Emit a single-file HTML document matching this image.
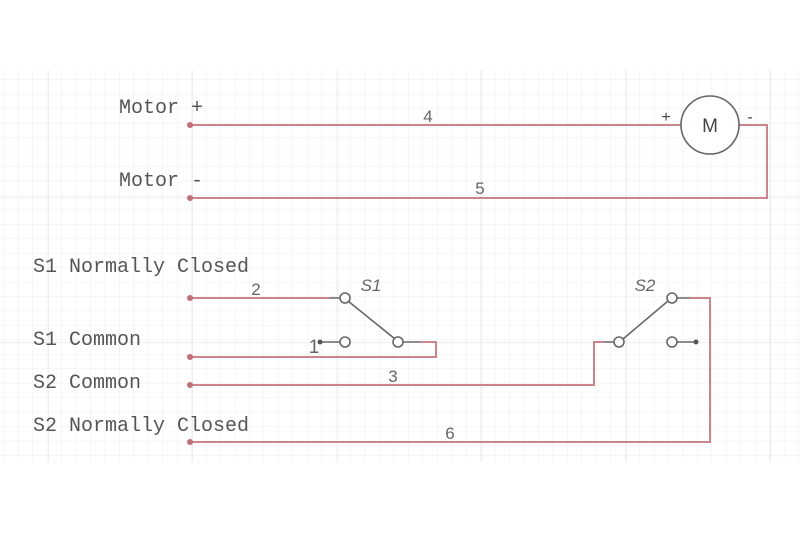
<!DOCTYPE html>
<html><head><style>
html,body{margin:0;padding:0;background:#fff;}
svg{display:block;}
text{font-family:"Liberation Mono",monospace;fill:#555;}
.n{font-family:"Liberation Sans",sans-serif;font-size:17px;fill:#666;}
</style></head><body>
<svg width="800" height="533" viewBox="0 0 800 533" xmlns="http://www.w3.org/2000/svg">
<defs>
<pattern id="minor" x="4" y="80" width="14.45" height="14.45" patternUnits="userSpaceOnUse">
<path d="M14.45 0V14.45H0" fill="none" stroke="#eeeeee" stroke-width="1"/>
</pattern>
<pattern id="major" x="48" y="53" width="144.5" height="144.5" patternUnits="userSpaceOnUse">
<path d="M0 0V144.5M0 0H144.5" fill="none" stroke="#dddddd" stroke-width="1"/>
</pattern>
</defs>
<rect x="0" y="70" width="800" height="392" fill="url(#minor)"/>
<rect x="0" y="70" width="800" height="392" fill="url(#major)"/>

<g fill="none" stroke="#c9868b" stroke-width="2">
<path d="M190 125H681"/>
<path d="M739 125H767V198H190"/>
<path d="M190 298H330"/>
<path d="M420 342H436V357H190"/>
<path d="M190 385H594V342H604"/>
<path d="M690 298H710V442H190"/>
</g>
<g fill="#c0707a">
<circle cx="190" cy="125" r="3"/><circle cx="190" cy="198" r="3"/>
<circle cx="190" cy="298" r="3"/><circle cx="190" cy="357" r="3"/>
<circle cx="190" cy="385" r="3"/><circle cx="190" cy="442" r="3"/>
</g>
<g fill="none" stroke="#666" stroke-width="1.6">
<circle cx="710" cy="125" r="29" fill="#fff"/>
<path d="M330 298H340M348 301L395 339M403 342H420M320 342H340"/>
<circle cx="345" cy="298" r="5" fill="#fff"/>
<circle cx="345" cy="342" r="5" fill="#fff"/>
<circle cx="398" cy="342" r="5" fill="#fff"/>
<path d="M604 342H614M623 339L668 301M677 298H690M677 342H696"/>
<circle cx="619" cy="342" r="5" fill="#fff"/>
<circle cx="672" cy="298" r="5" fill="#fff"/>
<circle cx="672" cy="342" r="5" fill="#fff"/>
</g>
<circle cx="320" cy="342" r="2.5" fill="#555"/>
<circle cx="696" cy="342" r="2.5" fill="#555"/>
<text x="710" y="132" text-anchor="middle" style="font-family:'Liberation Sans',sans-serif;font-size:19px;fill:#444">M</text>
<text x="666" y="122" text-anchor="middle" style="font-family:'Liberation Sans',sans-serif;font-size:16px;fill:#444">+</text>
<text x="750" y="122" text-anchor="middle" style="font-family:'Liberation Sans',sans-serif;font-size:16px;fill:#444">-</text>

<g font-size="20">
<text x="119" y="113">Motor +</text>
<text x="119" y="186">Motor -</text>
<text x="33" y="272">S1 Normally Closed</text>
<text x="33" y="345">S1 Common</text>
<text x="33" y="388">S2 Common</text>
<text x="33" y="431">S2 Normally Closed</text>
</g>
<text class="n" x="428" y="122" text-anchor="middle">4</text>
<text class="n" x="480" y="194" text-anchor="middle">5</text>
<text class="n" x="256" y="295" text-anchor="middle">2</text>
<text class="n" x="393" y="382" text-anchor="middle">3</text>
<text class="n" x="450" y="439" text-anchor="middle">6</text>
<text class="n" x="314" y="353" text-anchor="middle" style="font-size:19px">1</text>
<text class="n" x="371" y="291" text-anchor="middle" font-style="italic">S1</text>
<text class="n" x="645" y="291" text-anchor="middle" font-style="italic">S2</text>
</svg>
</body></html>
